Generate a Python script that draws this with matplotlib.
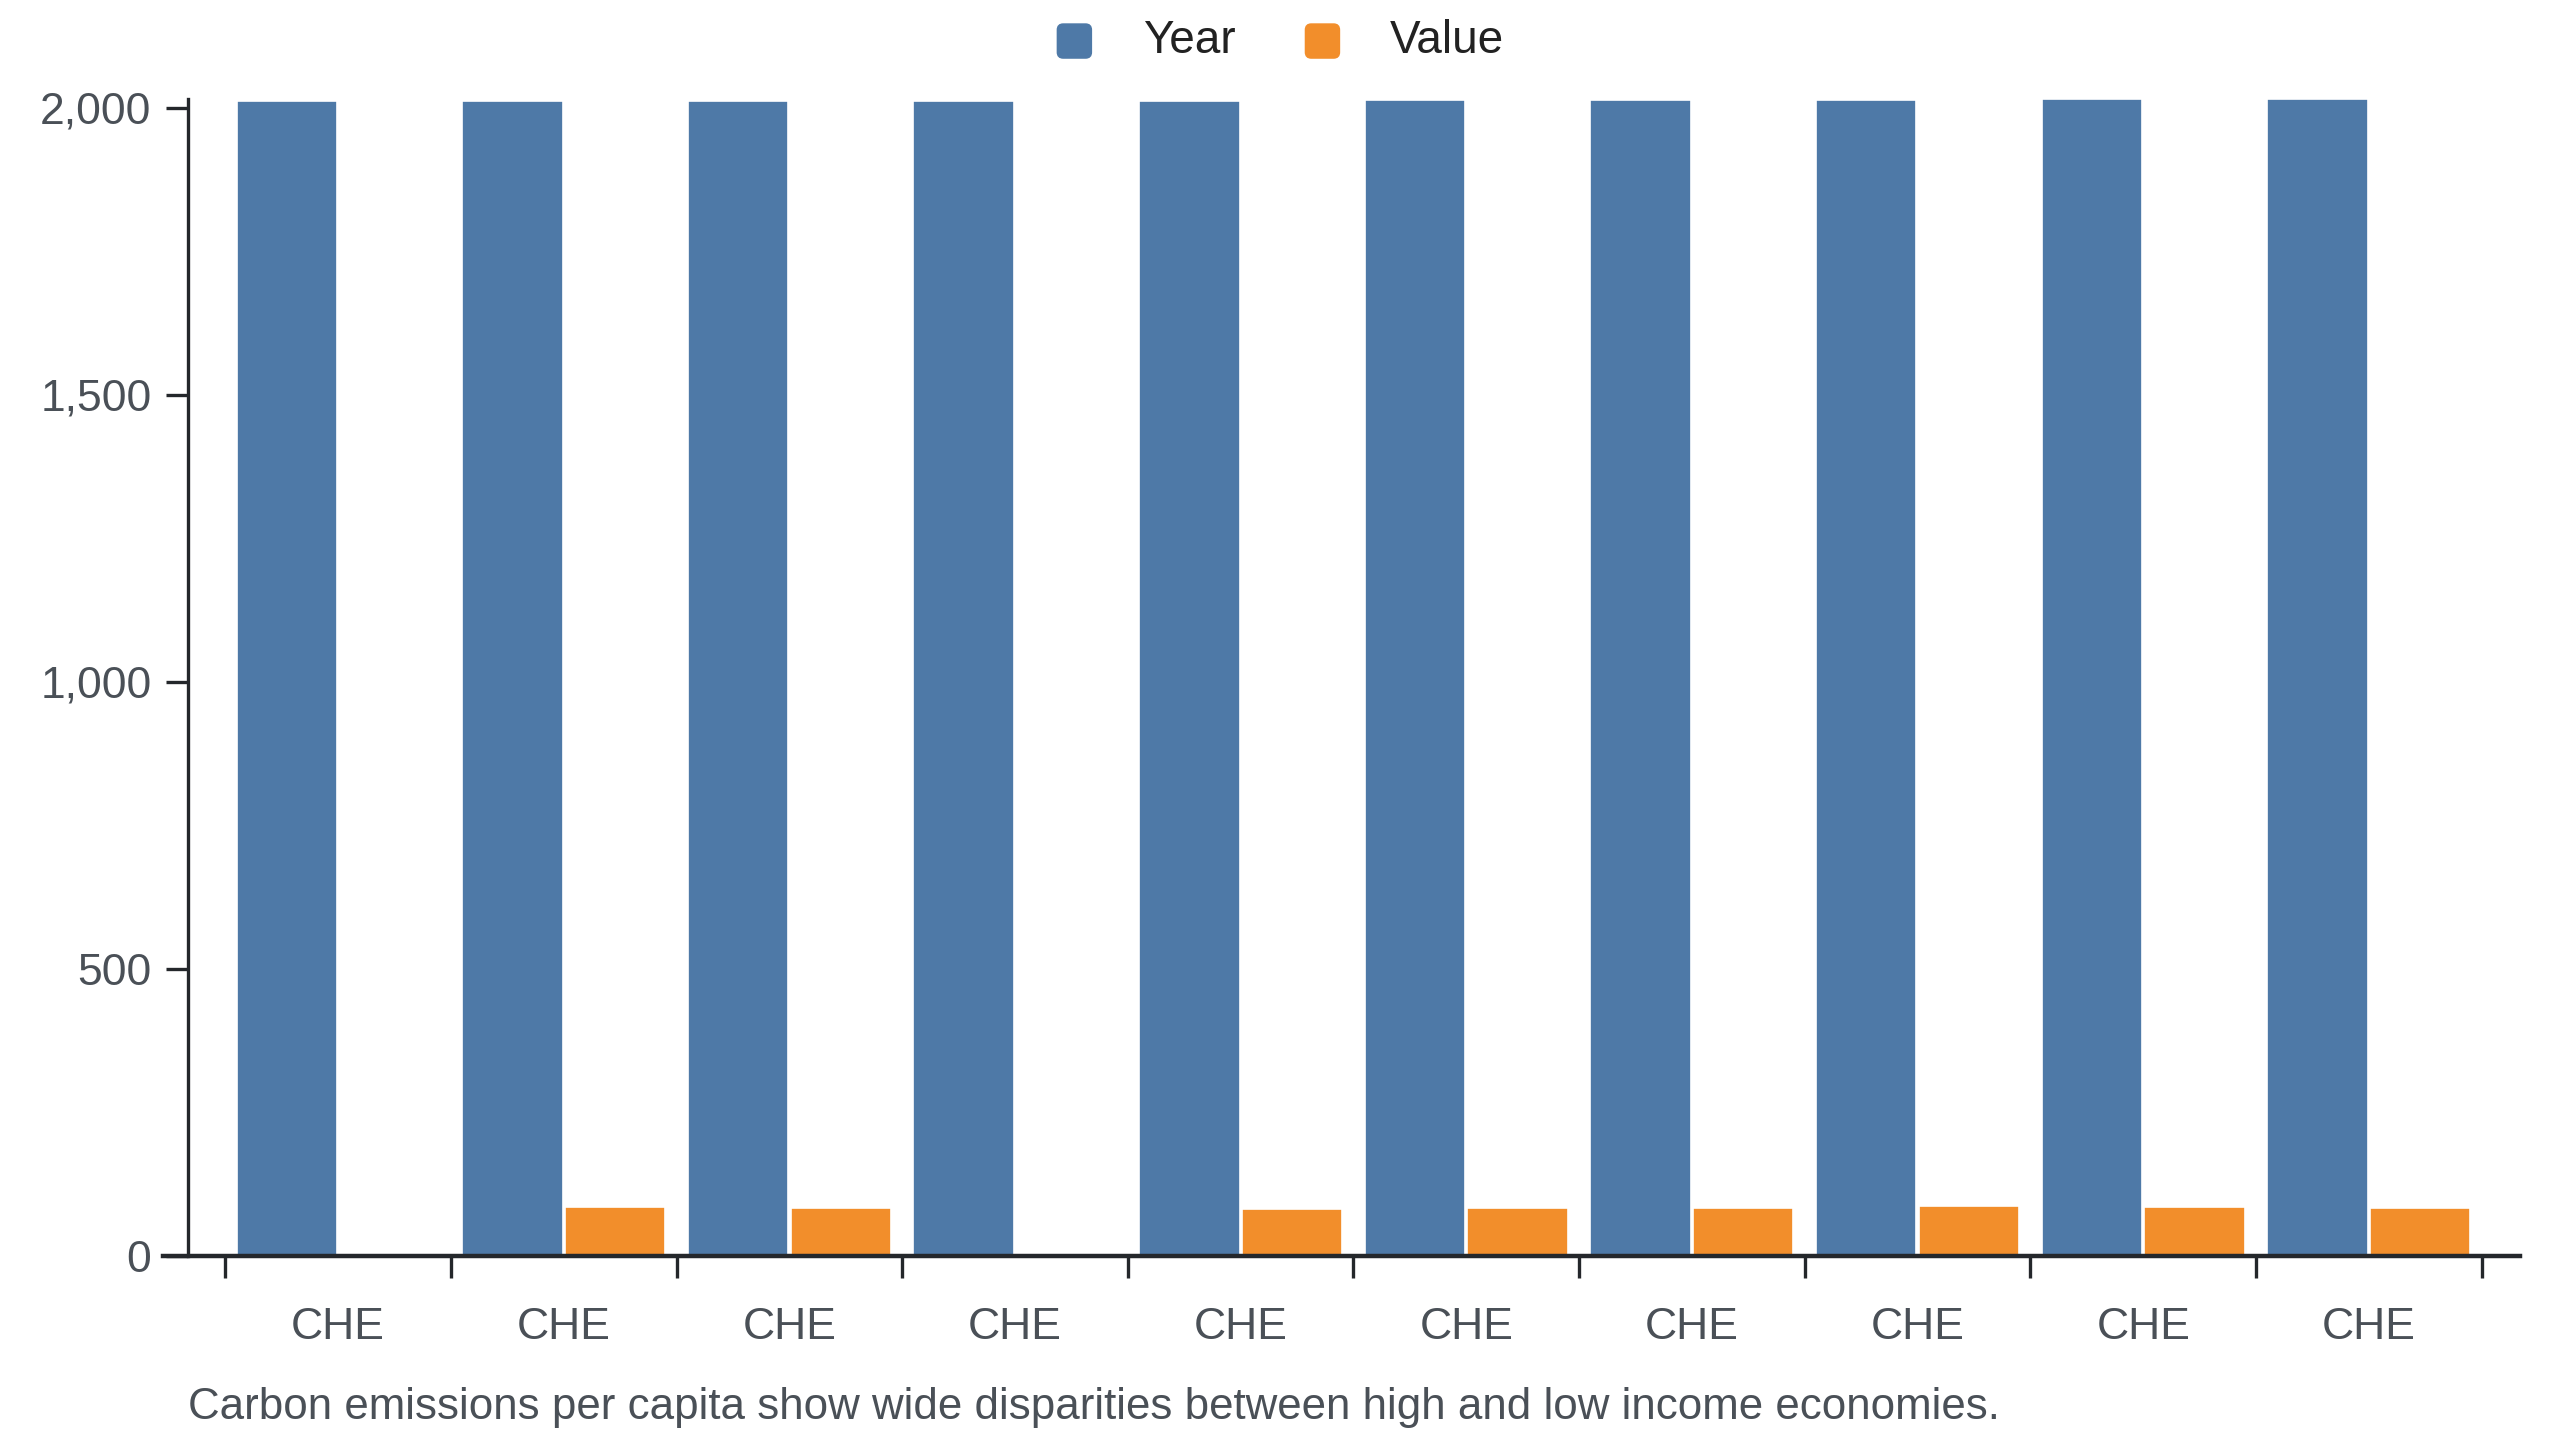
import numpy as np
import matplotlib
matplotlib.use("Agg")
from matplotlib import pyplot as plt
from matplotlib.patches import FancyBboxPatch
from matplotlib.ticker import FuncFormatter

# data
countries = ["CHE"] * 10
years = [2011, 2011, 2012, 2012, 2012, 2014, 2014, 2014, 2015, 2015]
values = [np.nan, 84, 82, np.nan, 81, 83, 82, 87, 85, 82]
y_ticks = [0, 500, 1000, 1500, 2000]

BLUE = "#4e79a7"
ORANGE = "#f28e2b"
AXIS = "#24272b"
LABEL = "#4a5057"

plt.rcParams["font.family"] = ["Liberation Sans", "DejaVu Sans"]

fig = plt.figure(figsize=(12.8, 7.2), dpi=200)
ax = fig.add_axes([0.0880, 0.1281, 0.8814, 0.8031])

n = len(countries)
x = np.arange(n)
ax.bar(x + 0.05, years, width=0.445, align="edge", color=BLUE,
       edgecolor="white", linewidth=0.6, label="Year")
ax.bar(x + 0.505, values, width=0.445, align="edge", color=ORANGE,
       edgecolor="white", linewidth=0.6, label="Value")

ax.set_xlim(0, n)
ax.set_ylim(0, max(years))

for s in ["top", "right"]:
    ax.spines[s].set_visible(False)
ax.spines["left"].set_position(("axes", -0.0167))
ax.spines["left"].set_color(AXIS)
ax.spines["left"].set_linewidth(1.2)
ax.spines["bottom"].set_color(AXIS)
ax.spines["bottom"].set_linewidth(1.6)
ax.spines["bottom"].set_bounds(-0.275, n + 0.17)

ax.set_yticks(y_ticks)
ax.yaxis.set_major_formatter(FuncFormatter(lambda v, p: f"{int(v):,}"))
ax.tick_params(axis="y", length=8, width=1.2, color=AXIS, pad=5,
               labelsize=16, labelcolor=LABEL)

# band edges get the tick marks, band centres get the labels
ax.set_xticks(np.arange(n + 1))
ax.set_xticklabels([])
ax.set_xticks(x + 0.5, minor=True)
ax.set_xticklabels(countries, minor=True)
ax.tick_params(axis="x", which="major", length=8, width=1.2, color=AXIS)
ax.tick_params(axis="x", which="minor", length=0, pad=18.5,
               labelsize=16, labelcolor=LABEL)

# legend drawn by hand at the top
leg_y = 0.9715
sq_w, sq_h = 0.01276, 0.0227
for xs, xt, col, txt in [(0.4133, 0.4464, BLUE, "Year"),
                         (0.5102, 0.5427, ORANGE, "Value")]:
    fig.patches.append(FancyBboxPatch((xs, leg_y - sq_h / 2), sq_w, sq_h,
                                      boxstyle="round,pad=0,rounding_size=0.002",
                                      transform=fig.transFigure, color=col,
                                      mutation_aspect=1.78))
    fig.text(xt, leg_y, txt, ha="left", va="center", fontsize=16.5, color="#222222")

fig.text(0.0733, 0.0226,
         "Carbon emissions per capita show wide disparities between high and low income economies.",
         ha="left", va="center", fontsize=15.8, color=LABEL)

fig.savefig("out.png", dpi=200)
